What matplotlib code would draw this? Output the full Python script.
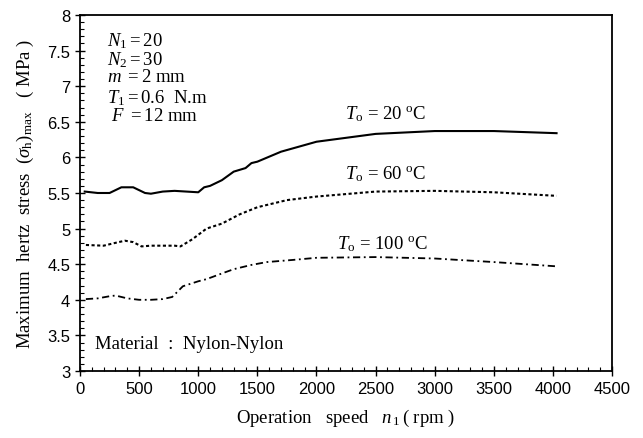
import matplotlib.pyplot as plt
from matplotlib.ticker import MultipleLocator

# operating speed n1 (rpm) and max hertz stress (MPa) for three oil temperatures
speed_20 = [40, 150, 250, 350, 450, 550, 600, 700, 800, 900, 1000, 1050, 1100,
            1200, 1300, 1400, 1450, 1500, 1700, 2000, 2500, 3000, 3500, 4030]
stress_20 = [5.52, 5.50, 5.50, 5.58, 5.58, 5.50, 5.49, 5.52, 5.53, 5.52, 5.51,
             5.58, 5.60, 5.68, 5.80, 5.85, 5.92, 5.94, 6.08, 6.22, 6.33, 6.37,
             6.37, 6.34]

speed_60 = [50, 200, 300, 380, 450, 520, 600, 700, 800, 850, 950, 1070, 1200,
            1350, 1500, 1750, 2000, 2500, 3000, 3500, 4030]
stress_60 = [4.77, 4.76, 4.80, 4.83, 4.81, 4.75, 4.76, 4.76, 4.76, 4.75, 4.85,
             5.00, 5.07, 5.20, 5.30, 5.40, 5.45, 5.52, 5.53, 5.51, 5.46]

speed_100 = [50, 150, 250, 300, 400, 500, 600, 700, 780, 870, 1000, 1070, 1200,
             1300, 1450, 1580, 1800, 2000, 2500, 3000, 3500, 4030]
stress_100 = [4.01, 4.02, 4.05, 4.06, 4.02, 4.00, 4.00, 4.01, 4.04, 4.19, 4.26,
              4.29, 4.37, 4.43, 4.49, 4.53, 4.56, 4.59, 4.60, 4.58, 4.53, 4.47]

serif = 'Liberation Serif'
sans = 'Liberation Sans'

plt.rcParams['mathtext.fontset'] = 'custom'
plt.rcParams['mathtext.rm'] = serif
plt.rcParams['mathtext.it'] = serif + ':italic'
plt.rcParams['mathtext.bf'] = serif + ':bold'

fig = plt.figure(figsize=(6.43, 4.39), dpi=100)
ax = fig.add_axes([0.1244, 0.1526, 0.8276, 0.811])

ax.plot(speed_20, stress_20, color='black', lw=1.5, ls='-')
ax.plot(speed_60, stress_60, color='black', lw=1.5, ls=(0, (1.5, 1.2)))
ax.plot(speed_100, stress_100, color='black', lw=1.3,
        ls=(0, (4, 2, 1, 2)))

ax.set_xlim(0, 4500)
ax.set_ylim(3, 8)
ax.xaxis.set_minor_locator(MultipleLocator(100))
ax.yaxis.set_minor_locator(MultipleLocator(0.1))
ax.tick_params(which='major', direction='inout', length=7, width=1)
ax.tick_params(which='minor', direction='in', length=3, width=0.8)
ax.set_xticks(range(0, 4501, 500))
ax.set_xticklabels([str(v) for v in range(0, 4501, 500)],
                   fontfamily=sans, fontsize=12)
ax.set_yticks([3, 3.5, 4, 4.5, 5, 5.5, 6, 6.5, 7, 7.5, 8])
ax.set_yticklabels(['3', '3.5', '4', '4.5', '5', '5.5', '6', '6.5', '7', '7.5', '8'],
                   fontfamily=sans, fontsize=12)
for s in ax.spines.values():
    s.set_linewidth(1.3)

ax.set_xlabel(r'Operation   speed   $n_{\,1}\,$( rpm )', fontfamily=serif,
              fontsize=13.5, labelpad=8)
ax.set_ylabel(r'Maximum  hertz  stress  ($\sigma_{\rm h})_{\rm max}$   ( MPa )',
              fontfamily=serif, fontsize=13.5, labelpad=8)

params = [r'$N_1 = 20$', r'$N_2 = 30$', r'$m\ = 2$ mm',
          r'$T_1 = 0.6$  N.m', r' $F\ = 12$ mm']
for i, t in enumerate(params):
    ax.text(0.05, 0.958 - i * 0.054, t, transform=ax.transAxes,
            fontfamily=serif, fontsize=13.5, va='top')

ax.text(2240, 6.55, r'$T_{\rm o}$ = 20 $^{\rm o}$C', fontfamily=serif, fontsize=13.5)
ax.text(2240, 5.70, r'$T_{\rm o}$ = 60 $^{\rm o}$C', fontfamily=serif, fontsize=13.5)
ax.text(2170, 4.72, r'$T_{\rm o}$ = 100 $^{\rm o}$C', fontfamily=serif, fontsize=13.5)
ax.text(130, 3.32, 'Material  :  Nylon-Nylon', fontfamily=serif, fontsize=13.5)

fig.savefig('out.png', dpi=100)
